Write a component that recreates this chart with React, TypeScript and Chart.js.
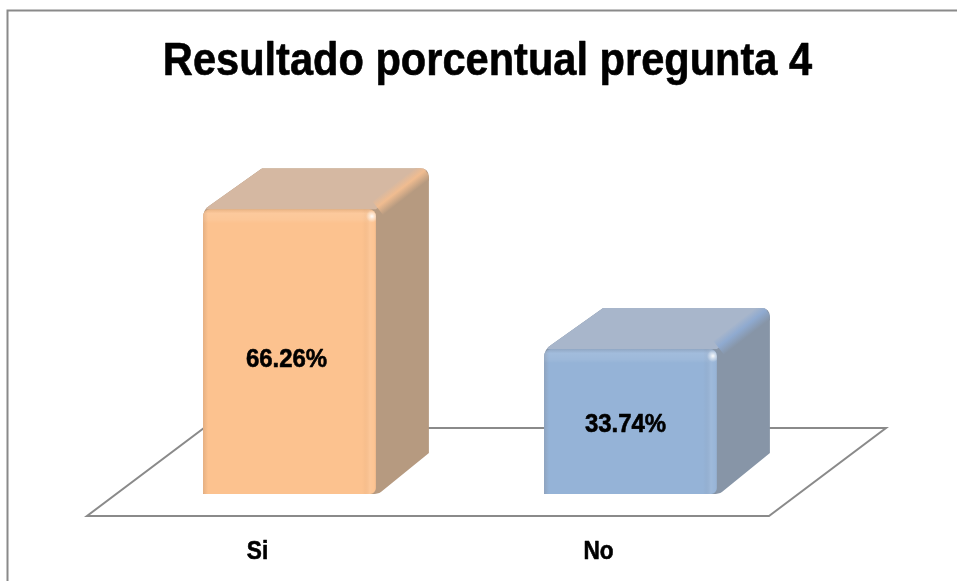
import React, { useEffect, useRef } from "react";
import { Chart, registerables } from "chart.js";

Chart.register(...registerables);

const titleText = "Resultado porcentual pregunta 4";
const categories = ["Si", "No"];
const percentages = [66.26, 33.74];
const frontColors = ["#FCC28F", "#95B3D7"];
const topColors = ["#D5B8A2", "#A8B6CB"];
const sideColors = ["#B69A80", "#8795A7"];
const bevelColors = ["#F0BC90", "#8FAAD0"];
const labelNudgeY = [8, 3];
const labelNudgeX = [-3, -5];

const FONT = '"Liberation Sans", Arial, sans-serif';
const TEXT_CONDENSE = 0.904;
const BAR_SHIFT = { x: 32, y: -22 };
const BAR_DEPTH = { x: 53, y: -41 };
const TOP_BACK_LEFT = 59;
const FLOOR_DEPTH = { x: 117, y: -88 };
const LINE = "#8A8A8A";

function silhouette(ctx: CanvasRenderingContext2D, L: number, R: number, T: number, B: number) {
  const dx = BAR_DEPTH.x, dy = BAR_DEPTH.y, r = 9;
  ctx.beginPath();
  ctx.moveTo(L, B);
  ctx.lineTo(L, T + r);
  ctx.quadraticCurveTo(L, T, L + 7, T - 4);
  ctx.lineTo(L + TOP_BACK_LEFT, T + dy);
  ctx.lineTo(R + dx - r, T + dy);
  ctx.quadraticCurveTo(R + dx, T + dy, R + dx, T + dy + r);
  ctx.lineTo(R + dx, B + dy);
  ctx.lineTo(R + 5, B - 2);
  ctx.quadraticCurveTo(R + 2, B, R - 4, B);
  ctx.closePath();
}

const backdropPlugin = {
  id: "backdrop",
  beforeDraw(chart: any) {
    const { ctx, width, height } = chart;
    if (!ctx.__condensed) {
      // The reference font is a narrow, heavy face that is not installed here:
      // squeeze the installed bold face horizontally and thicken it slightly.
      const originalFill = ctx.fillText.bind(ctx);
      const originalStroke = ctx.strokeText.bind(ctx);
      ctx.fillText = (text: string, x: number, y: number) => {
        ctx.save();
        ctx.translate(x, y);
        ctx.scale(TEXT_CONDENSE, 1);
        ctx.strokeStyle = ctx.fillStyle;
        ctx.lineWidth = 0.6;
        ctx.lineJoin = "round";
        originalStroke(text, 0, 0);
        originalFill(text, 0, 0);
        ctx.restore();
      };
      ctx.__condensed = true;
    }
    ctx.save();
    ctx.fillStyle = "#FFFFFF";
    ctx.fillRect(0, 0, width, height);
    ctx.strokeStyle = LINE;
    ctx.lineWidth = 2;
    ctx.beginPath();
    ctx.moveTo(7.5, height);
    ctx.lineTo(7.5, 10.5);
    ctx.lineTo(width, 10.5);
    ctx.stroke();
    ctx.restore();
  },
};

const bars3dPlugin = {
  id: "bars3d",
  beforeDatasetsDraw(chart: any) {
    const { ctx, chartArea } = chart;
    const { left, right, bottom } = chartArea;
    ctx.save();
    ctx.strokeStyle = LINE;
    ctx.lineWidth = 2;
    ctx.lineJoin = "miter";
    ctx.beginPath();
    ctx.moveTo(left, bottom);
    ctx.lineTo(right, bottom);
    ctx.lineTo(right + FLOOR_DEPTH.x, bottom + FLOOR_DEPTH.y);
    ctx.lineTo(left + FLOOR_DEPTH.x, bottom + FLOOR_DEPTH.y);
    ctx.closePath();
    ctx.stroke();
    ctx.restore();

    const meta = chart.getDatasetMeta(0);
    meta.data.forEach((bar: any, i: number) => {
      const L = bar.x - bar.width / 2 + BAR_SHIFT.x;
      const R = bar.x + bar.width / 2 + BAR_SHIFT.x;
      const T = bar.y + BAR_SHIFT.y;
      const B = bar.base + BAR_SHIFT.y;
      const dx = BAR_DEPTH.x, dy = BAR_DEPTH.y;
      ctx.save();
      silhouette(ctx, L, R, T, B);
      ctx.clip();
      ctx.fillStyle = sideColors[i];
      ctx.fillRect(L, T + dy, R - L + dx, B - T - dy);
      ctx.fillStyle = topColors[i];
      ctx.beginPath();
      ctx.moveTo(L, T);
      ctx.lineTo(L + TOP_BACK_LEFT, T + dy);
      ctx.lineTo(R + dx, T + dy);
      ctx.lineTo(R, T);
      ctx.closePath();
      ctx.fill();
      // soft bevel along the edge between top and side faces
      const ex = R + dx / 2, ey = T + dy / 2;
      const nx = 0.61, ny = 0.79, w = 9;
      const edge = ctx.createLinearGradient(ex - nx * w, ey - ny * w, ex + nx * w, ey + ny * w);
      edge.addColorStop(0, topColors[i]);
      edge.addColorStop(0.45, bevelColors[i]);
      edge.addColorStop(1, sideColors[i]);
      ctx.strokeStyle = edge;
      ctx.lineWidth = w * 2;
      ctx.beginPath();
      ctx.moveTo(R + 2, T - 1);
      ctx.lineTo(R + dx - 3, T + dy + 3);
      ctx.stroke();
      ctx.restore();
    });
    ctx.save();
    ctx.translate(BAR_SHIFT.x, BAR_SHIFT.y);
  },
  afterDatasetsDraw(chart: any) {
    const { ctx } = chart;
    ctx.restore();
    const meta = chart.getDatasetMeta(0);
    meta.data.forEach((bar: any, i: number) => {
      const L = bar.x - bar.width / 2 + BAR_SHIFT.x;
      const R = bar.x + bar.width / 2 + BAR_SHIFT.x;
      const T = bar.y + BAR_SHIFT.y;
      const B = bar.base + BAR_SHIFT.y;
      const W = R - L;
      ctx.save();
      ctx.beginPath();
      ctx.roundRect(L, T, W, B - T, [7, 7, 6, 1]);
      ctx.clip();
      const h = ctx.createLinearGradient(L, 0, R, 0);
      const f = (px: number) => Math.min(1, px / W);
      h.addColorStop(0, "rgba(110,80,60,0.16)");
      h.addColorStop(f(5), "rgba(110,80,60,0)");
      h.addColorStop(f(W - 14), "rgba(110,80,60,0)");
      h.addColorStop(f(W - 11), "rgba(110,80,60,0.03)");
      h.addColorStop(f(W - 6), "rgba(255,255,255,0.09)");
      h.addColorStop(f(W - 2), "rgba(255,255,255,0.04)");
      h.addColorStop(1, "rgba(110,80,60,0.08)");
      ctx.fillStyle = h;
      ctx.fillRect(L, T, W, B - T);
      const v = ctx.createLinearGradient(0, T, 0, T + 14);
      v.addColorStop(0, "rgba(110,80,60,0.12)");
      v.addColorStop(0.3, "rgba(255,255,255,0.12)");
      v.addColorStop(0.75, "rgba(255,255,255,0.08)");
      v.addColorStop(1, "rgba(255,255,255,0)");
      ctx.fillStyle = v;
      ctx.fillRect(L, T, W, 14);
      const sx = R - 4, sy = T + 7;
      const spot = ctx.createRadialGradient(sx, sy, 0, sx, sy, 6);
      spot.addColorStop(0, "rgba(255,255,255,0.95)");
      spot.addColorStop(0.4, "rgba(255,255,255,0.5)");
      spot.addColorStop(1, "rgba(255,255,255,0)");
      ctx.fillStyle = spot;
      ctx.fillRect(sx - 6, sy - 6, 12, 12);
      ctx.restore();

      ctx.save();
      ctx.fillStyle = "#000000";
      ctx.font = `bold 26.5px ${FONT}`;
      ctx.textAlign = "center";
      ctx.textBaseline = "middle";
      ctx.fillText(
        percentages[i].toFixed(2) + "%",
        (L + R) / 2 + labelNudgeX[i],
        (T + B) / 2 + labelNudgeY[i]
      );
      ctx.restore();
    });
  },
};

export default function App() {
  const ref = useRef<HTMLCanvasElement | null>(null);
  useEffect(() => {
    if (!ref.current) return;
    const chart = new Chart(ref.current, {
      type: "bar",
      data: {
        labels: categories,
        datasets: [
          {
            data: percentages,
            backgroundColor: frontColors,
            borderWidth: 0,
            borderSkipped: false,
            borderRadius: { topLeft: 7, topRight: 7, bottomRight: 6, bottomLeft: 1 },
            barPercentage: 0.507,
            categoryPercentage: 1,
          },
        ],
      },
      options: {
        animation: false,
        responsive: false,
        layout: { padding: { left: 18, right: 0, top: 10, bottom: 0 } },
        plugins: {
          legend: { display: false },
          tooltip: { enabled: false },
          title: {
            display: true,
            text: titleText,
            color: "#000000",
            font: { family: FONT, size: 46, weight: "bold" },
            padding: { top: 25, bottom: 125 },
          },
        },
        scales: {
          x: {
            grid: { display: false },
            border: { display: false },
            ticks: {
              color: "#000000",
              padding: 13,
              font: { family: FONT, size: 25, weight: "bold" },
            },
            afterFit(scale: any) {
              scale.height = 65;
            },
          },
          y: {
            min: 0,
            max: 70,
            grid: { display: false },
            border: { display: false },
            ticks: { display: false },
            afterFit(scale: any) {
              scale.width = 69;
            },
          },
          yRight: {
            position: "right",
            min: 0,
            max: 70,
            grid: { display: false },
            border: { display: false },
            ticks: { display: false },
            afterFit(scale: any) {
              scale.width = 188;
            },
          },
        },
      } as any,
      plugins: [backdropPlugin, bars3dPlugin],
    });
    return () => chart.destroy();
  }, []);
  return (
    <canvas
      ref={ref}
      width={957}
      height={581}
      style={{ position: "absolute", left: 0, top: 0, display: "block" }}
    />
  );
}
